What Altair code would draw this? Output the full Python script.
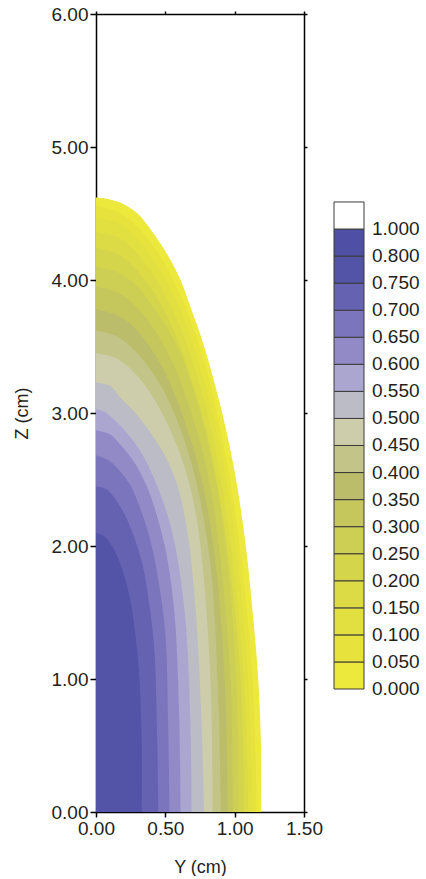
import altair as alt
import pandas as pd

# ---- contour levels (value at which each boundary sits) and fill colour of the band above it
LEVELS = [0.00, 0.05, 0.10, 0.15, 0.20, 0.25, 0.30, 0.35, 0.40, 0.45,
          0.50, 0.55, 0.60, 0.65, 0.70, 0.75]
BAND_COLORS = ["#ece83c", "#e7e33c", "#e2df40", "#dcdb46", "#d5d54c", "#cdcf55",
               "#c5c75d", "#bbbd6a", "#c3c588", "#cdcdab", "#bcbcc6", "#aaa6cf",
               "#918ac6", "#7b75bd", "#6662b2", "#5353a8"]

# ---- contour boundaries: Z (cm) and the Y (cm) reached at that Z
Z_000 = [0, 0.5, 1.0, 1.5, 2.0, 2.5, 3.0, 3.5, 3.8, 4.0, 4.2, 4.4, 4.5, 4.57, 4.61, 4.62]
Y_000 = [1.19, 1.19, 1.17, 1.13, 1.08, 1.01, 0.91, 0.78, 0.68, 0.61, 0.51, 0.38, 0.30, 0.20, 0.08, 0]
Z_005 = [0, 1.14, 2.28, 2.96, 3.42, 3.88, 4.20, 4.42, 4.51, 4.56]
Y_005 = [1.16, 1.12, 1.00, 0.88, 0.77, 0.61, 0.45, 0.28, 0.16, 0]
Z_010 = [0, 1.12, 2.24, 2.91, 3.35, 3.80, 4.11, 4.34, 4.43, 4.47]
Y_010 = [1.13, 1.09, 0.98, 0.86, 0.75, 0.60, 0.44, 0.27, 0.16, 0]
Z_015 = [0, 1.09, 2.18, 2.83, 3.27, 3.71, 4.01, 4.23, 4.32, 4.36]
Y_015 = [1.10, 1.06, 0.95, 0.84, 0.73, 0.58, 0.43, 0.27, 0.16, 0]
Z_020 = [0, 1.06, 2.12, 2.76, 3.18, 3.60, 3.90, 4.11, 4.20, 4.24]
Y_020 = [1.07, 1.04, 0.93, 0.82, 0.71, 0.57, 0.42, 0.26, 0.15, 0]
Z_025 = [0, 1.03, 2.05, 2.67, 3.08, 3.49, 3.77, 3.98, 4.06, 4.10]
Y_025 = [1.03, 1.01, 0.93, 0.83, 0.73, 0.59, 0.43, 0.27, 0.15, 0]
Z_030 = [0, 0.99, 1.98, 2.57, 2.96, 3.36, 3.63, 3.83, 3.91, 3.95]
Y_030 = [0.99, 0.97, 0.89, 0.80, 0.70, 0.56, 0.42, 0.26, 0.15, 0]
Z_035 = [0, 0.95, 1.89, 2.46, 2.84, 3.21, 3.48, 3.67, 3.74, 3.78]
Y_035 = [0.95, 0.93, 0.86, 0.77, 0.67, 0.54, 0.40, 0.25, 0.14, 0]
Z_040 = [0, 0.91, 1.81, 2.35, 2.72, 3.08, 3.33, 3.51, 3.58, 3.62]
Y_040 = [0.90, 0.88, 0.83, 0.75, 0.66, 0.53, 0.39, 0.24, 0.14, 0]
Z_045 = [0, 0.86, 1.73, 2.24, 2.59, 2.93, 3.17, 3.35, 3.42, 3.45]
Y_045 = [0.84, 0.83, 0.78, 0.72, 0.64, 0.51, 0.38, 0.23, 0.13, 0]
Z_050 = [0, 0.7, 1.5, 2.1, 2.48, 2.73, 2.98, 3.12, 3.20, 3.23]
Y_050 = [0.78, 0.76, 0.72, 0.66, 0.58, 0.47, 0.30, 0.17, 0.11, 0]
Z_055 = [0, 0.7, 1.5, 2.1, 2.48, 2.73, 2.9, 2.98, 3.01, 3.03]
Y_055 = [0.69, 0.68, 0.64, 0.55, 0.43, 0.31, 0.18, 0.10, 0.06, 0]
Z_060 = [0, 0.72, 1.44, 1.87, 2.15, 2.44, 2.64, 2.78, 2.84, 2.87]
Y_060 = [0.61, 0.60, 0.57, 0.52, 0.46, 0.37, 0.27, 0.16, 0.10, 0]
Z_065 = [0, 0.67, 1.34, 1.74, 2.01, 2.28, 2.47, 2.60, 2.65, 2.68]
Y_065 = [0.53, 0.52, 0.50, 0.45, 0.40, 0.32, 0.24, 0.14, 0.08, 0]
Z_070 = [0, 0.61, 1.23, 1.59, 1.84, 2.08, 2.25, 2.38, 2.43, 2.45]
Y_070 = [0.45, 0.44, 0.42, 0.38, 0.34, 0.27, 0.20, 0.12, 0.07, 0]
Z_075 = [0, 0.53, 1.05, 1.37, 1.58, 1.79, 1.93, 2.04, 2.08, 2.10]
Y_075 = [0.33, 0.33, 0.31, 0.28, 0.25, 0.20, 0.15, 0.09, 0.05, 0]

CONTOUR_Z = [Z_000, Z_005, Z_010, Z_015, Z_020, Z_025, Z_030, Z_035,
             Z_040, Z_045, Z_050, Z_055, Z_060, Z_065, Z_070, Z_075]
CONTOUR_Y = [Y_000, Y_005, Y_010, Y_015, Y_020, Y_025, Y_030, Y_035,
             Y_040, Y_045, Y_050, Y_055, Y_060, Y_065, Y_070, Y_075]

# ---- axis ticks
X_TICKS = [0, 0.5, 1.0, 1.5]
Y_TICKS = [0, 1, 2, 3, 4, 5, 6]

# ---- legend (bottom box first)
LEGEND_LABELS = ["0.000", "0.050", "0.100", "0.150", "0.200", "0.250", "0.300",
                 "0.350", "0.400", "0.450", "0.500", "0.550", "0.600", "0.650",
                 "0.700", "0.750", "0.800", "1.000"]
LEGEND_COLORS = BAND_COLORS + ["#4f4fa6", "#ffffff"]

FONT = "Liberation Sans"
INK = "#231f20"

rows = []
for k, (zs, ys) in enumerate(zip(CONTOUR_Z, CONTOUR_Y)):
    for z, y in zip(zs, ys):
        rows.append({"k": k, "Z": z, "Y": y})
df = pd.DataFrame(rows)

x_scale = alt.Scale(domain=[0, 1.5], nice=False, zero=False)
y_scale = alt.Scale(domain=[0, 6], nice=False, zero=False)

common_axis = dict(labelFont=FONT, labelFontSize=19, labelColor=INK, titleFont=FONT,
                   titleFontSize=18, titleFontWeight="normal", titleColor=INK,
                   domainColor="black", domainWidth=1.5, tickColor="black", tickWidth=1.5,
                   grid=False, labelFlush=False, labelOverlap=False, labelBound=False)

layers = []
for k in range(len(LEVELS)):
    if k == 0:
        xax = alt.Axis(values=X_TICKS, format=".2f", title="Y (cm)", tickSize=5,
                       labelPadding=2, titlePadding=20, **common_axis)
        yax = alt.Axis(values=Y_TICKS, format=".2f", title="Z (cm)", tickSize=6,
                       labelPadding=2, titlePadding=20, **common_axis)
    elif k == 1:
        xax = alt.Axis(orient="top", values=X_TICKS, labels=False, title=None, tickSize=3,
                       **common_axis)
        yax = alt.Axis(orient="right", values=Y_TICKS, labels=False, title=None, tickSize=3,
                       **common_axis)
    else:
        xax = None
        yax = None
    layer = (
        alt.Chart(df)
        .transform_filter(alt.datum.k == k)
        .mark_area(orient="horizontal", interpolate="catmull-rom", color=BAND_COLORS[k],
                   opacity=1)
        .encode(
            y=alt.Y("Z:Q", scale=y_scale, axis=yax),
            x=alt.X("Y:Q", scale=x_scale, axis=xax, stack=None),
            x2=alt.datum(0),
        )
    )
    layers.append(layer)

main = (
    alt.layer(*layers)
    .resolve_axis(x="independent", y="independent")
    .properties(width=208, height=798)
)

# ---- legend panel
n_box = len(LEGEND_COLORS)
leg_df = pd.DataFrame({"k": list(range(n_box)), "color": LEGEND_COLORS})
lab_df = pd.DataFrame({"k": list(range(len(LEGEND_LABELS))), "label": LEGEND_LABELS})
leg_scale = alt.Scale(domain=[-4.545, 24.947], nice=False, zero=False)

boxes = (
    alt.Chart(leg_df)
    .transform_calculate(k2="datum.k + 1")
    .mark_rect(stroke="#3a3a3a", strokeWidth=1)
    .encode(
        y=alt.Y("k:Q", scale=leg_scale, axis=None),
        y2="k2:Q",
        x=alt.value(0),
        x2=alt.value(30),
        color=alt.Color("color:N", scale=None, legend=None),
    )
)
labels = (
    alt.Chart(lab_df)
    .mark_text(align="left", baseline="middle", font=FONT, fontSize=19, color=INK)
    .encode(
        y=alt.Y("k:Q", scale=leg_scale, axis=None),
        x=alt.value(38),
        text="label:N",
    )
)
legend = alt.layer(boxes, labels).properties(width=30, height=798)

chart = (
    alt.hconcat(main, legend, spacing=30, bounds="flush")
    .properties(padding={"left": 13, "top": 5, "right": 0, "bottom": 0},
                background="white")
    .configure_view(stroke=None)
)

chart.save("out.html", embed_options={"renderer": "svg", "actions": False})
